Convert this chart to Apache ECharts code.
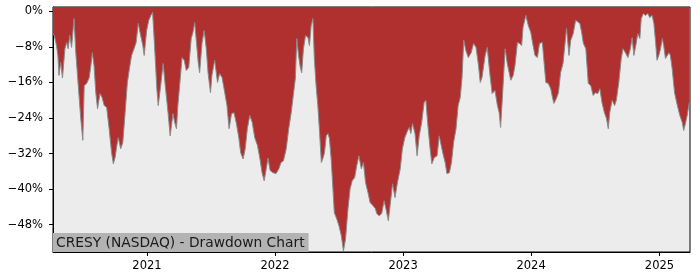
<!DOCTYPE html>
<html>
<head>
<meta charset="utf-8">
<script src="https://cdn.jsdelivr.net/npm/echarts@6/dist/echarts.min.js"></script>
<style>
html,body{margin:0;padding:0;background:#fff;}
#chart{width:700px;height:280px;}
</style>
</head>
<body>
<div id="chart"></div>
<script>
const titleText = 'CRESY (NASDAQ) - Drawdown Chart';

const dates = [
'2020-04-08','2020-04-12','2020-04-18','2020-04-22','2020-04-25','2020-04-30','2020-05-05','2020-05-12','2020-05-17','2020-05-21',
'2020-05-26','2020-05-31','2020-06-07','2020-06-12','2020-06-19','2020-06-26','2020-07-02','2020-07-06','2020-07-13','2020-07-20',
'2020-07-25','2020-07-29','2020-08-03','2020-08-08','2020-08-13','2020-08-20','2020-08-26','2020-09-01','2020-09-08','2020-09-15',
'2020-09-22','2020-09-27','2020-10-02','2020-10-07','2020-10-11','2020-10-18','2020-10-24','2020-10-30','2020-11-06','2020-11-12',
'2020-11-18','2020-11-25','2020-12-01','2020-12-07','2020-12-12','2020-12-20','2020-12-24','2020-12-31','2021-01-06','2021-01-12',
'2021-01-17','2021-01-24','2021-01-29','2021-02-02','2021-02-09','2021-02-16','2021-02-22','2021-03-02','2021-03-08','2021-03-16',
'2021-03-21','2021-03-26','2021-03-30','2021-04-04','2021-04-11','2021-04-17','2021-04-23','2021-04-30','2021-05-07','2021-05-12',
'2021-05-17','2021-05-22','2021-05-27','2021-05-31','2021-06-07','2021-06-13','2021-06-19','2021-06-24','2021-07-01','2021-07-05',
'2021-07-13','2021-07-21','2021-07-27','2021-08-03','2021-08-11','2021-08-17','2021-08-23','2021-08-30','2021-09-06','2021-09-13',
'2021-09-20','2021-09-25','2021-10-02','2021-10-08','2021-10-14','2021-10-21','2021-10-28','2021-11-04','2021-11-12','2021-11-19',
'2021-11-25','2021-12-01','2021-12-07','2021-12-12','2021-12-18','2021-12-26','2022-01-04','2022-01-12','2022-01-18','2022-01-25',
'2022-02-02','2022-02-09','2022-02-16','2022-02-22','2022-02-28','2022-03-04','2022-03-09','2022-03-14','2022-03-18','2022-03-23',
'2022-03-29','2022-04-05','2022-04-09','2022-04-14','2022-04-19','2022-04-23','2022-04-28','2022-05-03','2022-05-08','2022-05-13',
'2022-05-17','2022-05-22','2022-05-27','2022-06-01','2022-06-05','2022-06-10','2022-06-15','2022-06-19','2022-06-26','2022-07-02',
'2022-07-09','2022-07-15','2022-07-21','2022-07-28','2022-08-03','2022-08-09','2022-08-16','2022-08-22','2022-08-28','2022-09-04',
'2022-09-10','2022-09-16','2022-09-23','2022-09-29','2022-10-07','2022-10-14','2022-10-18','2022-10-25','2022-11-01','2022-11-08',
'2022-11-13','2022-11-20','2022-11-25','2022-12-02','2022-12-09','2022-12-16','2022-12-24','2022-12-30','2023-01-06','2023-01-14',
'2023-01-19','2023-01-23','2023-01-28','2023-02-04','2023-02-10','2023-02-16','2023-02-23','2023-03-02','2023-03-07','2023-03-12',
'2023-03-19','2023-03-24','2023-03-31','2023-04-08','2023-04-14','2023-04-19','2023-04-24','2023-05-01','2023-05-06','2023-05-13',
'2023-05-19','2023-05-25','2023-06-01','2023-06-07','2023-06-13','2023-06-18','2023-06-23','2023-06-29','2023-07-06','2023-07-14',
'2023-07-21','2023-07-28','2023-08-04','2023-08-09','2023-08-14','2023-08-23','2023-08-29','2023-09-05','2023-09-12','2023-09-20',
'2023-09-27','2023-10-02','2023-10-06','2023-10-11','2023-10-19','2023-10-25','2023-11-04','2023-11-11','2023-11-16','2023-11-23',
'2023-11-29','2023-12-05','2023-12-09','2023-12-17','2023-12-24','2023-12-31','2024-01-05','2024-01-12','2024-01-19','2024-01-25',
'2024-02-02','2024-02-07','2024-02-12','2024-02-19','2024-02-26','2024-03-02','2024-03-06','2024-03-13','2024-03-19','2024-03-25',
'2024-04-01','2024-04-07','2024-04-11','2024-04-18','2024-04-23','2024-04-30','2024-05-07','2024-05-12','2024-05-19','2024-05-24',
'2024-05-29','2024-06-05','2024-06-12','2024-06-19','2024-06-26','2024-07-02','2024-07-09','2024-07-15','2024-07-21','2024-07-28',
'2024-08-03','2024-08-08','2024-08-12','2024-08-19','2024-08-26','2024-08-31','2024-09-07','2024-09-14','2024-09-19','2024-09-26',
'2024-10-03','2024-10-10','2024-10-15','2024-10-20','2024-10-27','2024-10-31','2024-11-06','2024-11-10','2024-11-16','2024-11-22',
'2024-11-29','2024-12-04','2024-12-11','2024-12-16','2024-12-21','2024-12-25','2024-12-30','2025-01-04','2025-01-09','2025-01-13',
'2025-01-18','2025-01-23','2025-01-28','2025-02-01','2025-02-06','2025-02-13','2025-02-21','2025-02-28','2025-03-07','2025-03-11',
'2025-03-16','2025-03-21','2025-03-27'
];

const drawdown = [
-5.0,-5.5,-7.7,-10.0,-14.4,-11.5,-15.0,-8.4,-7.0,-8.4,
-5.4,-8.1,-1.6,-9.3,-16.7,-24.0,-29.0,-16.7,-16.2,-15.0,
-12.2,-9.3,-12.2,-18.3,-21.9,-18.5,-19.4,-21.2,-21.6,-26.4,
-31.8,-34.3,-32.9,-30.2,-28.4,-30.9,-29.5,-23.4,-16.0,-12.8,
-9.9,-8.4,-7.0,-2.7,-4.7,-7.7,-9.9,-4.3,-2.0,-0.9,
-0.2,-9.9,-17.4,-21.2,-16.7,-11.7,-16.7,-22.8,-28.0,-23.0,
-25.0,-26.4,-21.2,-16.7,-10.4,-11.0,-13.3,-12.6,-6.1,-4.7,
-2.5,-7.0,-11.5,-13.8,-7.0,-4.3,-8.4,-13.8,-18.3,-14.4,
-11.0,-16.0,-14.0,-14.9,-18.5,-21.2,-26.4,-23.0,-22.8,-25.3,
-28.6,-31.8,-33.2,-30.9,-26.4,-23.4,-25.0,-28.4,-30.2,-33.2,
-36.3,-38.1,-35.4,-33.0,-35.8,-36.3,-36.5,-35.4,-34.0,-33.6,
-30.9,-26.4,-22.8,-18.9,-15.0,-6.1,-9.9,-12.6,-13.8,-8.4,
-5.4,-5.9,-7.7,-3.2,-1.6,-10.6,-16.7,-21.2,-27.3,-34.0,
-33.2,-31.8,-28.0,-27.5,-28.6,-33.2,-39.9,-45.3,-46.7,-48.2,
-50.5,-53.9,-51.2,-44.4,-39.9,-38.1,-37.4,-34.7,-32.5,-35.4,
-34.0,-38.5,-40.8,-43.0,-43.7,-44.4,-45.5,-46.0,-45.5,-42.6,
-44.4,-47.1,-43.7,-38.8,-41.9,-38.5,-35.4,-30.9,-28.4,-26.8,
-26.1,-27.5,-25.2,-27.5,-32.5,-28.0,-25.0,-20.5,-20.0,-25.0,
-30.9,-34.3,-32.9,-32.5,-28.0,-28.0,-31.8,-34.0,-36.5,-36.3,
-34.0,-29.5,-26.4,-21.2,-19.4,-15.0,-6.5,-8.8,-10.4,-9.3,
-7.2,-8.1,-12.2,-16.0,-14.9,-9.9,-8.1,-13.8,-18.5,-17.8,
-21.2,-22.8,-26.1,-19.6,-8.4,-11.7,-15.5,-14.4,-12.2,-7.0,
-7.2,-7.7,-3.6,-0.9,-3.2,-4.7,-7.0,-9.9,-10.4,-7.2,
-7.0,-11.5,-16.0,-16.2,-17.4,-19.4,-20.7,-19.6,-18.3,-13.8,
-11.7,-7.0,-3.8,-9.9,-6.5,-5.0,-2.0,-1.6,-2.7,-4.7,
-7.2,-8.4,-16.2,-16.7,-18.9,-18.3,-18.5,-17.4,-20.5,-22.8,
-24.1,-26.4,-22.8,-20.0,-21.2,-20.0,-16.0,-10.6,-8.4,-9.3,
-10.4,-8.4,-5.9,-9.9,-7.0,-5.0,-6.1,-1.6,-0.5,-0.9,
-0.5,-1.4,-0.9,-2.7,-7.0,-11.0,-9.9,-8.4,-6.1,-7.7,
-10.6,-11.0,-9.3,-9.9,-12.8,-18.3,-21.2,-23.4,-25.0,-26.8,
-25.2,-23.4,-20.5
];

const yTicks = [0, -8, -16, -24, -32, -40, -48];
const yearTicks = ['2021-01-01', '2022-01-01', '2023-01-01', '2024-01-01', '2025-01-01'];
const xRange = ['2020-04-08', '2025-03-29'];
const yRange = [-54.14, 0.99];

function ts(s) { return Date.UTC(+s.slice(0, 4), +s.slice(5, 7) - 1, +s.slice(8, 10)); }

const seriesData = dates.map((d, i) => [ts(d), drawdown[i]]);
const yearTs = yearTicks.map(ts);

const chart = echarts.init(document.getElementById('chart'), null, {renderer: 'canvas'});
const font = 'DejaVu Sans';
chart.setOption({
  animation: false,
  backgroundColor: '#ffffff',
  title: {
    text: titleText,
    left: 53,
    top: 233,
    padding: [3, 4, 2, 3],
    backgroundColor: '#b3b3b3',
    textStyle: {fontFamily: font, fontSize: 13.8, fontWeight: 'normal', color: '#1a1a1a', lineHeight: 14}
  },
  grid: {
    left: 53, right: 10, top: 7, bottom: 28,
    show: true, backgroundColor: '#ececec', borderColor: '#000', borderWidth: 1
  },
  xAxis: {
    type: 'value',
    min: ts(xRange[0]),
    max: ts(xRange[1]),
    splitLine: {show: false},
    axisLine: {show: true, onZero: false, lineStyle: {color: '#000', width: 1}},
    axisTick: {show: true, length: 4, lineStyle: {color: '#000'}, customValues: yearTs},
    axisLabel: {
      customValues: yearTs, margin: 8,
      fontFamily: font, fontSize: 11.5, color: '#000',
      formatter: v => String(new Date(v).getUTCFullYear())
    }
  },
  yAxis: {
    type: 'value',
    min: yRange[0],
    max: yRange[1],
    splitLine: {show: false},
    axisLine: {show: true, onZero: false, lineStyle: {color: '#000', width: 1}},
    axisTick: {show: true, length: 4, lineStyle: {color: '#000'}, customValues: yTicks},
    axisLabel: {
      customValues: yTicks, margin: 10,
      fontFamily: font, fontSize: 11.5, color: '#000',
      formatter: v => (v < 0 ? '\u2212' + Math.abs(Math.round(v)) : String(Math.round(v))) + '%'
    }
  },
  series: [{
    type: 'line',
    data: seriesData,
    showSymbol: false,
    symbol: 'none',
    lineStyle: {color: '#8a8a8a', width: 1},
    areaStyle: {color: '#b03030', opacity: 1, origin: 'end'},
    z: 2
  }]
});
</script>
</body>
</html>
